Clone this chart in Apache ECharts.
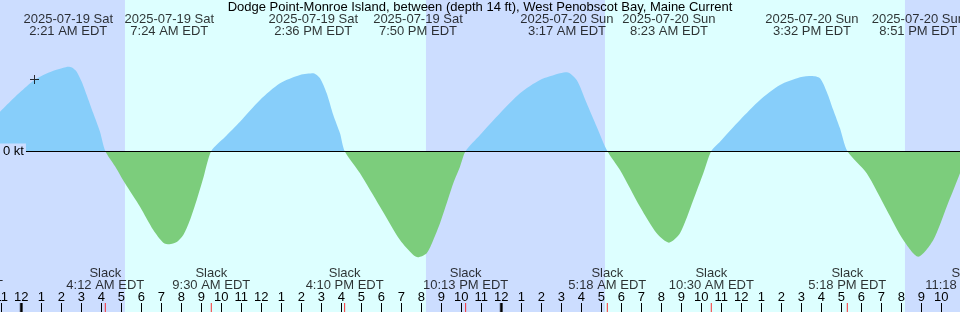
<!DOCTYPE html>
<html><head><meta charset="utf-8">
<script src="https://cdn.jsdelivr.net/npm/echarts@6/dist/echarts.min.js"></script>
<style>html,body{margin:0;padding:0;background:#ccddff}#c{width:960px;height:312px}</style>
</head><body><div id="c"></div>
<script>
const TITLE = 'Dodge Point-Monroe Island, between (depth 14 ft), West Penobscot Bay, Maine Current';
// time in hours since 2025-07-19 00:00 EDT, current in knots (+ flood, - ebb)
const currentHours = [
  -1.065,-0.565,-0.065,0.6,1.1,1.6,2.1,2.35,2.535,2.77,3.02,3.27,3.6,3.935,4.2,
  4.685,5.185,5.935,6.6,7.1,7.4,7.77,8.1,8.435,8.77,9.1,9.5,
  10.185,10.935,11.935,12.935,13.935,14.6,14.935,15.27,15.6,15.935,16.167,
  16.935,17.935,18.935,19.6,19.833,20.27,20.6,20.935,21.27,21.6,21.935,22.217,
  22.935,23.935,24.935,25.935,26.935,27.283,27.77,28.27,28.77,29.3,
  29.935,30.935,31.77,32.383,32.935,33.6,34.1,34.5,
  34.935,35.935,36.935,37.935,38.935,39.533,39.935,40.27,40.6,40.935,41.3,
  42.27,43.27,44.1,44.85,45.6,46.27,46.935,47.3
];
const currentKnots = [
  0.786,0.986,1.174,1.406,1.52,1.606,1.666,1.686,1.67,1.586,1.386,1.12,0.754,0.386,0,
  -0.306,-0.646,-1.114,-1.58,-1.834,-1.866,-1.82,-1.68,-1.38,-0.98,-0.54,0,
  0.28,0.586,1.02,1.354,1.52,1.554,1.454,1.154,0.72,0.354,0,
  -0.446,-1.114,-1.78,-2.08,-2.126,-2.046,-1.78,-1.446,-1.046,-0.646,-0.314,0,
  0.32,0.754,1.154,1.42,1.554,1.574,1.42,0.954,0.486,0,
  -0.38,-1.114,-1.646,-1.834,-1.646,-0.98,-0.446,0,
  0.186,0.62,1.02,1.32,1.474,1.5,1.454,1.186,0.82,0.454,0,
  -0.446,-1.18,-1.78,-2.114,-1.78,-1.114,-0.446,0
];
const peakHours = [2.35, 7.4, 14.6, 19.833, 27.283, 32.383, 39.533, 44.85];
const peakDates = ['2025-07-19 Sat','2025-07-19 Sat','2025-07-19 Sat','2025-07-19 Sat','2025-07-20 Sun','2025-07-20 Sun','2025-07-20 Sun','2025-07-20 Sun'];
const peakTimes = ['2:21 AM EDT','7:24 AM EDT','2:36 PM EDT','7:50 PM EDT','3:17 AM EDT','8:23 AM EDT','3:32 PM EDT','8:51 PM EDT'];
const slackHours = [-2.867, 4.2, 9.5, 16.167, 22.217, 29.3, 34.5, 41.3, 47.3];
const slackTimes = ['9:08 PM EDT','4:12 AM EDT','9:30 AM EDT','4:10 PM EDT','10:13 PM EDT','5:18 AM EDT','10:30 AM EDT','5:18 PM EDT','11:18 PM EDT'];
const daylight = [[5.183, 20.233], [29.183, 44.183]];
const midnightHours = [0, 24];
const hourTicks = [-1,0,1,2,3,4,5,6,7,8,9,10,11,12,13,14,15,16,17,18,19,20,21,22,23,24,25,26,27,28,29,30,31,32,33,34,35,36,37,38,39,40,41,42,43,44,45,46];
const yTicks = [0];
const nowMark = [0.66, 1.43];

const X_MIN = -1.065, X_MAX = 46.935, Y_MIN = -3.22, Y_MAX = 3.02;
const FONT = "'Liberation Sans', Arial, sans-serif";
const FS = 13;

const chart = echarts.init(document.getElementById('c'), null, {renderer: 'canvas'});
chart.setOption({
  animation: false,
  backgroundColor: '#ccddff',
  textStyle: {fontFamily: FONT},
  title: {text: TITLE, left: 'center', top: 1, padding: 0, textStyle: {fontSize: FS, fontWeight: 'normal', color: '#000', fontFamily: FONT}},
  grid: {left: 0, right: 0, top: 0, bottom: 0, containLabel: false, outerBoundsMode: 'none'},
  xAxis: {
    type: 'value', min: X_MIN, max: X_MAX, z: 10,
    axisLine: {show: false, onZero: false}, splitLine: {show: false},
    axisTick: {show: true, inside: true, length: 9, customValues: hourTicks, lineStyle: {color: '#000', width: 1}},
    axisLabel: {show: true, inside: true, margin: 8, customValues: hourTicks, color: '#000', fontSize: FS, fontFamily: FONT,
      formatter: v => { const h = ((Math.round(v) % 12) + 12) % 12; return String(h === 0 ? 12 : h); }}
  },
  yAxis: {
    type: 'value', min: Y_MIN, max: Y_MAX, z: 10,
    axisLine: {show: false, onZero: false}, axisTick: {show: false}, splitLine: {show: false},
    axisLabel: {show: true, inside: true, margin: 0, customValues: yTicks, formatter: '{value} kt', color: '#000', fontSize: FS, fontFamily: FONT,
      backgroundColor: '#ccddff', padding: [1, 2, 1, 3]}
  },
  visualMap: {type: 'piecewise', show: false, seriesIndex: 1, dimension: 1,
    pieces: [{gt: 0, lte: 10, color: '#87cefa'}, {gte: -10, lte: 0, color: '#7ccd7c'}]},
  series: [
    {type: 'line', name: 'bands', data: [[X_MIN, null]], z: 0, silent: true, symbol: 'none',
      markArea: {silent: true, itemStyle: {color: '#ddffff', opacity: 1},
        data: daylight.map(d => [{xAxis: d[0]}, {xAxis: d[1]}])}},
    {type: 'line', name: 'current', z: 2, silent: true, symbol: 'none', showSymbol: false,
      smooth: 0.25,
      data: currentHours.map((h, i) => [h, currentKnots[i]]),
      lineStyle: {width: 0, opacity: 0}, areaStyle: {opacity: 1},
      markLine: {silent: true, symbol: ['none', 'none'], label: {show: false},
        lineStyle: {color: '#000', width: 1, type: 'solid'}, data: [{yAxis: 0}]}},
    {type: 'scatter', name: 'peaks', z: 5, silent: true, clip: false, symbolSize: 0,
      itemStyle: {color: 'transparent'},
      data: peakHours.map(h => [h, Y_MAX]),
      label: {show: true, position: 'bottom', distance: 13.5, color: '#000', fontSize: FS, lineHeight: 12, fontFamily: FONT, align: 'center',
        formatter: p => peakDates[p.dataIndex] + '\n' + peakTimes[p.dataIndex]}},
    {type: 'scatter', name: 'slack', z: 5, silent: true, clip: false, symbol: 'rect', symbolSize: [1, 18],
      itemStyle: {color: '#ff0000'},
      data: slackHours.map(h => [h, Y_MIN]),
      label: {show: true, position: 'top', distance: 11.5, color: '#000', fontSize: FS, lineHeight: 12, fontFamily: FONT, align: 'center',
        formatter: p => 'Slack\n' + slackTimes[p.dataIndex]}},
    {type: 'scatter', name: 'midnight', z: 5, silent: true, symbol: 'rect', symbolSize: [3, 18],
      itemStyle: {color: '#000'}, data: midnightHours.map(h => [h, Y_MIN])},
    {type: 'scatter', name: 'now', z: 6, silent: true, symbol: 'path://M0,4h9v1h-9z M4,0h1v9h-1z', symbolSize: 9,
      itemStyle: {color: '#000'}, data: [nowMark]}
  ]
});
</script></body></html>
